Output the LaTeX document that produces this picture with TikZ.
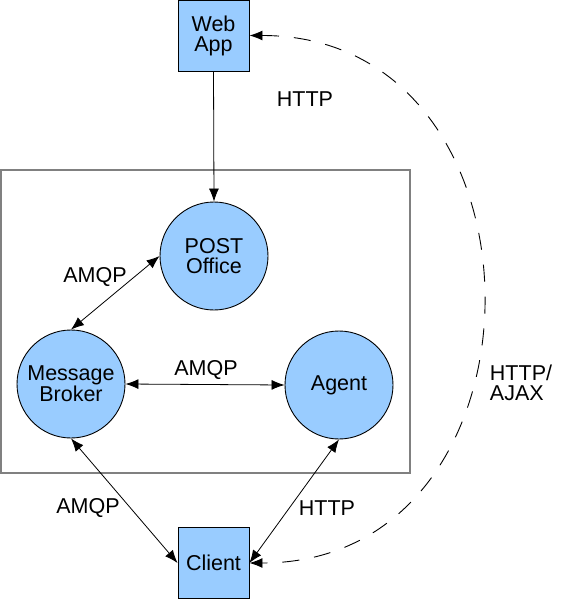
\documentclass[tikz,border=0pt]{standalone}
\usepackage{fontspec}
\setmainfont{Liberation Sans}
\usetikzlibrary{arrows.meta}
\definecolor{boxblue}{HTML}{99CCFF}
\definecolor{framegray}{HTML}{808080}
\begin{document}
\begin{tikzpicture}[x=1pt,y=-1pt,
  every node/.style={font=\fontsize{21.5}{20}\selectfont},
  sq/.style={draw=black, fill=boxblue, minimum width=71pt, minimum height=71pt, inner sep=0pt, align=center, line width=0.9pt},
  circ/.style={circle, draw=black, fill=boxblue, minimum size=108pt, inner sep=0pt, align=center, line width=0.9pt},
  tip/.tip={Latex[length=13pt,width=10pt]},
  conn/.style={line width=0.8pt, tip-tip},
  oneway/.style={line width=0.8pt, -tip},
  dashpath/.style={line width=0.9pt, dash pattern=on 17pt off 15pt, tip-tip},
  lbl/.style={inner sep=0pt, align=left}]
\useasboundingbox (0,0) rectangle (571,599);
\fill[white] (0,0) rectangle (571,599);
\draw[framegray, line width=1.3pt] (1,170) rectangle (410,473);

\node[sq] (web) at (213.5,35.5) {Web\\App};
\node[sq] (client) at (213.5,563) {Client};
\node[circ] (post) at (214,256) {POST\\Office};
\node[circ] (broker) at (71,384) {Message\\Broker};
\node[circ] (agent) at (339,385) {Agent};

\draw[oneway] (web.south) -- (post.north);
\draw[conn] (broker.north) -- (post.west);
\draw[conn] (broker.east) -- (agent.west);
\draw[conn] (broker.south) -- (client.west);
\draw[conn] (agent.south) -- (client.east);
\draw[dashpath] (web.east) .. controls +(310,0) and +(310,0) .. (client.east);

\node[lbl] (l1) at (305,99) {HTTP};
\node[lbl] (l2) at (95,277) {AMQP};
\node[lbl] (l3) at (206,370) {AMQP};
\node[lbl] (l4) at (521,383) {HTTP/\\AJAX};
\node[lbl] (l5) at (88,508) {AMQP};
\node[lbl] (l6) at (327,508) {HTTP};
\end{tikzpicture}
\end{document}
